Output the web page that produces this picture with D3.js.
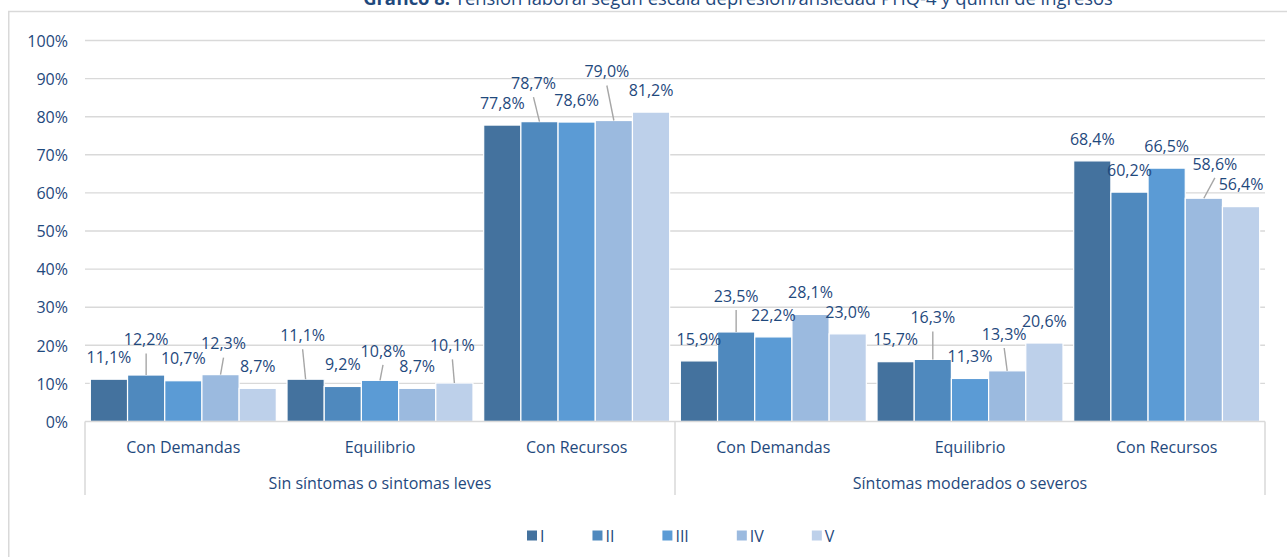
<!DOCTYPE html>
<html><head><meta charset="utf-8">
<script src="https://cdn.jsdelivr.net/npm/d3@7"></script>
<style>
body{margin:0;background:#fff;overflow:hidden}
svg{display:block}
text{font-family:'Open Sans','Noto Sans',sans-serif;fill:#1F497D}
</style>
</head><body>
<svg id="c" width="1287" height="557"></svg>
<script>
// ---- data ----
const titleBold = "Gráfico 8.";
const titleRest = " Tensión laboral según escala depresión/ansiedad PHQ-4 y quintil de ingresos";
const groups = ["Sin síntomas o sintomas leves", "Síntomas moderados o severos"];
const categories = ["Con Demandas", "Equilibrio", "Con Recursos"];
const series = ["I", "II", "III", "IV", "V"];
const valuesI   = [11.1, 11.1, 77.8, 15.9, 15.7, 68.4];
const valuesII  = [12.2,  9.2, 78.7, 23.5, 16.3, 60.2];
const valuesIII = [10.7, 10.8, 78.6, 22.2, 11.3, 66.5];
const valuesIV  = [12.3,  8.7, 79.0, 28.1, 13.3, 58.6];
const valuesV   = [ 8.7, 10.1, 81.2, 23.0, 20.6, 56.4];
const yTicks = [0, 10, 20, 30, 40, 50, 60, 70, 80, 90, 100];

// ---- style / layout ----
const colors = ["#44729E", "#4F89BE", "#5B9BD5", "#9BBADF", "#BDD0EA"];
const seriesValues = [valuesI, valuesII, valuesIII, valuesIV, valuesV];
// label nudges (pixels) for labels moved by hand, with leader lines: "seriesIndex-categoryIndex"
const labelNudges = {
  "1-0": [0, -35.5], "3-0": [3, -31],
  "0-1": [-3, -44], "2-1": [3, -29.4], "4-1": [-2, -37.7],
  "1-2": [-6, -38.6], "3-2": [-7, -49],
  "1-3": [0, -36],
  "1-4": [0, -42], "3-4": [-3, -36.8],
  "3-5": [11, -34.4]
};
const defaultNudge = [0, -22];

const plotL = 85, plotR = 1265, plotT = 40.5, plotB = 421.5;
const fs = 16;

const svg = d3.select("#c");

// chart frame
svg.append("rect").attr("x", 8.75).attr("y", 11.5).attr("width", 1400).attr("height", 700)
  .attr("fill", "none").attr("stroke", "#d9d9d9").attr("stroke-width", 1.5);

// title (partly above the visible area, as in the reference)
const title = svg.append("text").attr("x", 738).attr("y", 5).attr("text-anchor", "middle")
  .style("font-size", "17px");
title.append("tspan").attr("font-weight", "bold").text(titleBold);
title.append("tspan").text(titleRest);
const tw = title.node().getComputedTextLength();
title.style("font-size", (17 * 750 / tw).toFixed(2) + "px");

const catIdx = d3.range(groups.length * categories.length);
const x0 = d3.scaleBand().domain(catIdx).range([plotL, plotR]).paddingInner(0).paddingOuter(0);
const x1 = d3.scaleBand().domain(series).range([0, x0.bandwidth()]).paddingInner(0).paddingOuter(0.144);
const y = d3.scaleLinear().domain([0, 100]).range([plotB, plotT]);

// gridlines
svg.append("g").selectAll("line").data(yTicks.filter(t => t > 0)).join("line")
  .attr("x1", plotL).attr("x2", plotR)
  .attr("y1", d => y(d)).attr("y2", d => y(d))
  .attr("stroke", "#d9d9d9").attr("stroke-width", 1.4);

// y axis labels
const yAxis = svg.append("g").attr("transform", `translate(${plotL},0)`)
  .call(d3.axisLeft(y).tickValues(yTicks).tickFormat(d => d + "%").tickSize(0).tickPadding(17));
yAxis.select(".domain").remove();
yAxis.selectAll("text").style("font-size", fs + "px").attr("fill", "#1F497D")
  .style("font-family", "'Open Sans','Noto Sans',sans-serif").attr("dy", "0.36em");

// bars
const loc = d3.formatLocale({decimal: ",", thousands: ".", grouping: [3], currency: ["", "€"]});
const fmt = loc.format(".1f");

const barData = [];
series.forEach((s, si) => {
  seriesValues[si].forEach((v, ci) => barData.push({s, si, ci, v}));
});

svg.append("g").selectAll("rect").data(barData).join("rect")
  .attr("x", d => x0(d.ci) + x1(d.s))
  .attr("y", d => y(d.v))
  .attr("width", x1.bandwidth())
  .attr("height", d => y(0) - y(d.v))
  .attr("fill", d => colors[d.si])
  .attr("stroke", "#fff").attr("stroke-width", 1.2);

// category axis line
svg.append("line").attr("x1", plotL).attr("x2", plotR).attr("y1", y(0)).attr("y2", y(0))
  .attr("stroke", "#d9d9d9").attr("stroke-width", 1.5);

// data labels + leaders
const lbl = svg.append("g");
barData.forEach(d => {
  const key = d.si + "-" + d.ci;
  const nudge = labelNudges[key] || defaultNudge;
  const bx = x0(d.ci) + x1(d.s) + x1.bandwidth() / 2;
  const by = y(d.v);
  const lx = bx + nudge[0], ly = by + nudge[1];
  if (labelNudges[key]) {
    lbl.append("line").attr("x1", lx).attr("y1", ly + 14).attr("x2", bx).attr("y2", by)
      .attr("stroke", "#a6a6a6").attr("stroke-width", 1.4);
  }
  lbl.append("text").attr("x", lx).attr("y", ly + 5.7).attr("text-anchor", "middle")
    .style("font-size", fs + "px").text(fmt(d.v) + "%");
});

// category labels
const bw = x0.bandwidth();
svg.append("g").selectAll("text").data(catIdx).join("text")
  .attr("x", d => x0(d) + bw / 2).attr("y", 452.5).attr("text-anchor", "middle")
  .style("font-size", fs + "px").text(d => categories[d % categories.length]);

// group labels
svg.append("g").selectAll("text").data(groups).join("text")
  .attr("x", (g, gi) => x0(gi * categories.length) + bw * categories.length / 2)
  .attr("y", 489).attr("text-anchor", "middle")
  .style("font-size", fs + "px").text(g => g);

// separators
const seps = [x0(0), x0(categories.length), x0(catIdx.length - 1) + bw];
svg.append("g").selectAll("line").data(seps).join("line")
  .attr("x1", d => d).attr("x2", d => d).attr("y1", y(0)).attr("y2", 495)
  .attr("stroke", "#d9d9d9").attr("stroke-width", 1.5);

// legend
const leg = svg.append("g");
let lx = 527;
series.forEach((s, si) => {
  leg.append("rect").attr("x", lx).attr("y", 530.5).attr("width", 10).attr("height", 10)
    .attr("fill", colors[si]);
  const t = leg.append("text").attr("x", lx + 13).attr("y", 541.5)
    .style("font-size", fs + "px").text(s);
  lx += 61 + t.node().getComputedTextLength();
});
</script>
</body></html>
